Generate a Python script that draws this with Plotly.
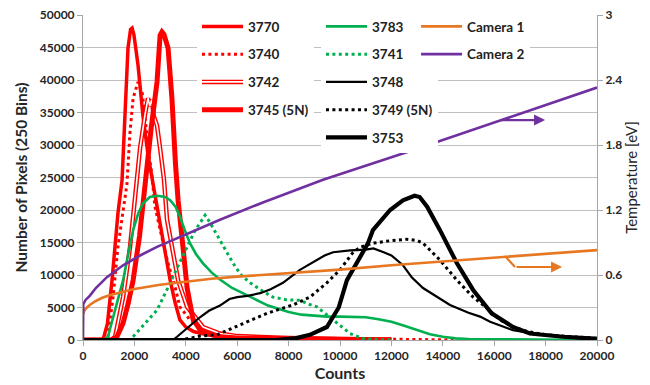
import plotly.graph_objects as go

# ---------------- data ----------------
x_3770 = [0, 700, 800, 950, 1130, 1360, 1520, 1650, 1750, 1850, 1910, 1980, 2140, 2330, 2530, 2700, 2880, 3070, 3230, 3390, 3580, 3770, 4000, 4300, 4700, 5300, 6000, 7000, 8000, 9000, 10000, 12000]
y_3770 = [0, 0, 300, 2500, 9200, 19500, 24600, 36000, 44900, 47800, 48000, 47000, 42300, 34600, 28500, 24600, 20500, 16900, 12800, 9200, 5800, 3100, 2000, 1300, 900, 500, 300, 200, 150, 100, 80, 30]

x_3740 = [0, 850, 970, 1170, 1360, 1710, 1830, 1950, 2140, 2300, 2410, 2530, 2680, 2800, 3070, 3310, 3580, 3770, 4160, 4550, 5330, 6000, 8000, 10000, 12000, 14000, 14600]
y_3740 = [0, 0, 500, 6600, 14300, 24000, 32000, 37200, 39700, 38100, 34600, 29500, 25400, 20500, 15800, 11800, 8200, 5100, 3100, 2000, 1000, 600, 300, 200, 150, 100, 0]

x_3742 = [0, 1100, 1250, 1560, 1830, 2100, 2220, 2410, 2530, 2600, 2680, 2750, 2880, 3000, 3150, 3270, 3460, 3700, 4050, 4670, 5330, 6000, 8000, 10000, 12000]
y_3742 = [0, 0, 500, 6600, 14300, 24600, 29500, 34600, 37200, 36000, 37000, 34500, 33000, 29500, 24700, 18500, 14300, 9200, 5100, 2000, 1000, 600, 300, 150, 50]

x_3745 = [0, 1200, 1320, 1560, 1750, 1950, 2200, 2410, 2650, 2880, 3000, 3070, 3150, 3310, 3460, 3600, 3700, 3890, 4050, 4280, 4550, 4820, 5330, 6000, 7000, 8000, 9000, 10000, 11000, 12000]
y_3745 = [0, 0, 500, 2600, 5500, 9200, 16000, 24600, 32500, 39700, 46900, 47400, 47000, 44900, 37200, 27000, 21500, 14300, 8000, 3200, 1600, 1000, 500, 300, 200, 150, 100, 80, 50, 20]

x_3783 = [0, 800, 970, 1250, 1560, 1750, 1950, 2150, 2330, 2600, 2900, 3200, 3390, 3600, 3770, 3950, 4160, 4400, 4670, 5000, 5330, 5800, 6300, 6800, 7200, 7600, 8000, 8500, 9000, 9500, 10000, 10500, 11000, 11500, 12000, 12500, 13000, 13500, 14000, 14500, 15000, 16000, 17000, 18000, 19000, 20000]
y_3783 = [0, 0, 500, 4500, 9200, 13000, 16900, 19500, 21000, 22000, 22200, 22000, 21500, 20500, 19000, 17000, 14900, 13200, 11800, 10400, 9300, 8000, 7000, 6000, 5300, 4800, 4300, 3900, 3700, 3600, 3600, 3600, 3500, 3200, 2800, 2200, 1500, 900, 500, 250, 150, 100, 60, 30, 0, 0]

x_3741 = [0, 1800, 1950, 2400, 2880, 3200, 3500, 3770, 4050, 4350, 4670, 4750, 4950, 5330, 5840, 6150, 6500, 7000, 7390, 7900, 8440, 8800, 9100, 9730, 10390, 10900, 11500, 12000]
y_3741 = [0, 0, 500, 2500, 4600, 7200, 9700, 12000, 14300, 16800, 18700, 19200, 18000, 15300, 11800, 10000, 8800, 7500, 6600, 6200, 6100, 5500, 5100, 3100, 1000, 200, 50, 0]

x_3748 = [0, 3500, 3660, 4100, 4550, 4900, 5330, 5700, 6000, 6400, 6900, 7300, 7780, 8440, 8900, 9400, 9730, 10400, 11000, 11300, 11700, 12000, 12450, 12800, 13230, 13770, 14280, 15000, 15450, 15840, 16730, 17670, 18050, 19000, 20000]
y_3748 = [0, 0, 500, 2000, 3500, 4500, 5300, 6300, 6600, 6800, 7200, 7800, 8800, 10800, 11800, 13000, 13500, 13800, 13900, 14100, 13500, 13000, 11500, 9600, 8000, 6700, 5400, 4200, 3600, 2800, 1500, 900, 700, 400, 200]

x_3749 = [0, 3700, 4200, 4550, 5210, 5800, 6230, 6700, 7160, 7700, 8170, 8830, 9490, 10000, 10510, 10800, 11280, 12000, 12600, 13000, 13230, 13890, 14550, 15180, 15720, 16230, 16730, 17300, 18000, 19000, 20000]
y_3749 = [0, 0, 300, 600, 800, 1800, 2600, 3300, 4100, 4800, 5400, 6600, 8800, 10800, 13500, 14300, 14900, 15300, 15500, 15300, 14900, 12300, 9200, 6600, 4900, 3100, 2000, 1300, 800, 500, 300]

x_3753 = [0, 7500, 8300, 8830, 9490, 9950, 10270, 10660, 11090, 11280, 11950, 12450, 12900, 13100, 13390, 13890, 14550, 15180, 15900, 16730, 17390, 18680, 19900]
y_3753 = [0, 0, 300, 800, 2000, 5000, 9200, 12000, 14900, 16900, 20000, 21500, 22200, 22000, 20500, 16900, 11800, 7700, 4100, 2000, 1000, 500, 200]

x_cam1 = [0, 50, 150, 300, 500, 750, 1000, 1500, 2000, 3000, 4000, 5000, 6000, 8000, 10000, 12000, 14000, 16000, 18000, 20000]
t_cam1 = [0.24, 0.27, 0.30, 0.33, 0.36, 0.39, 0.41, 0.44, 0.47, 0.51, 0.54, 0.565, 0.585, 0.615, 0.65, 0.69, 0.725, 0.76, 0.795, 0.83]

x_cam2 = [0, 10, 100, 270, 500, 930, 1560, 2220, 2880, 3770, 4550, 5330, 7000, 9340, 12800, 16000, 20000]
t_cam2 = [0.0, 0.33, 0.37, 0.41, 0.48, 0.58, 0.69, 0.78, 0.86, 0.95, 1.03, 1.11, 1.27, 1.48, 1.75, 2.01, 2.33]

# arrows pointing to the right-hand axis
purple_arrow_x = [16200, 17980]
purple_arrow_t = [2.03, 2.03]
orange_arrow_x = [16420, 16810, 18640]
orange_arrow_t = [0.775, 0.674, 0.674]

x_ticks = list(range(0, 20001, 2000))
y_ticks = list(range(0, 50001, 5000))
t_ticks = [0, 0.6, 1.2, 1.8, 2.4, 3]
t_ticktext = ["0", "0.6", "1.2", "1.8", "2.4", "3"]

# ---------------- styles ----------------
RED = "#FF0000"
GREEN = "#00B050"
BLACK = "#000000"
ORANGE = "#E87722"
PURPLE = "#7030A0"
FONT = "Lato"
BLANK = "\u00a0"

fig = go.Figure()


def add(x, y, name, color, width, dash="solid", legend="legend", yaxis="y",
        showlegend=True, rank=1000, group=None):
    fig.add_trace(go.Scatter(
        x=x, y=y, name=name, mode="lines", yaxis=yaxis,
        line=dict(color=color, width=width, dash=dash),
        legend=legend, showlegend=showlegend, legendgroup=group or (name + legend),
        legendrank=rank, hoverinfo="skip"))


add(x_3770, y_3770, "3770", RED, 3.5, rank=1)
add(x_3740, y_3740, "3740", RED, 3, dash="3px,3.4px", rank=2)
add(x_3742, y_3742, "3742", RED, 4.5, rank=3)
add(x_3742, y_3742, BLANK, "white", 1.6, legend="legend4", rank=3, group="w3")
add(x_3745, y_3745, "3745 (5N)", RED, 5, rank=4)
add(x_3783, y_3783, "3783", GREEN, 2.6, legend="legend2", rank=1)
add(x_3741, y_3741, "3741", GREEN, 3, dash="3px,3.4px", legend="legend2", rank=2)
add(x_3748, y_3748, "3748", BLACK, 2.2, legend="legend2", rank=3)
add(x_3749, y_3749, "3749 (5N)", BLACK, 3, dash="3px,3.4px", legend="legend2", rank=4)
add(x_3753, y_3753, "3753", BLACK, 4.2, legend="legend2", rank=5)
add(x_cam1, t_cam1, "Camera 1", ORANGE, 2.6, legend="legend3", yaxis="y2", rank=1)
add(x_cam2, t_cam2, "Camera 2", PURPLE, 2.6, legend="legend3", yaxis="y2", rank=2)

# orange arrow kink segment
add(orange_arrow_x[:2], orange_arrow_t[:2], "o_arrow", ORANGE, 2.2, yaxis="y2", showlegend=False)

# invisible placeholders so the white inner line of 3742 aligns in the legend
for rk in [1, 2, 4]:
    add([None], [None], BLANK, "rgba(0,0,0,0)", 1, legend="legend4", rank=rk, group="p%d" % rk)

fig.add_annotation(x=purple_arrow_x[1], y=purple_arrow_t[1], ax=purple_arrow_x[0], ay=purple_arrow_t[0],
                   xref="x", yref="y2", axref="x", ayref="y2", text="", showarrow=True,
                   arrowhead=2, arrowsize=1, arrowwidth=2.2, arrowcolor=PURPLE, standoff=0)
fig.add_annotation(x=orange_arrow_x[2], y=orange_arrow_t[2], ax=orange_arrow_x[1], ay=orange_arrow_t[1],
                   xref="x", yref="y2", axref="x", ayref="y2", text="", showarrow=True,
                   arrowhead=2, arrowsize=1, arrowwidth=2.2, arrowcolor=ORANGE, standoff=0)

legend_common = dict(
    orientation="v", yanchor="top", xanchor="left", bgcolor="white", borderwidth=0,
    font=dict(family=FONT, size=13.5, color="#222222", weight="bold"),
    itemwidth=41, traceorder="grouped", tracegroupgap=7.2, itemclick=False, itemdoubleclick=False,
)
LY = 1.012
legend1 = dict(legend_common, x=0.2218, y=LY)
legend4 = dict(legend_common, x=0.2218, y=LY, bgcolor="rgba(0,0,0,0)")
legend2 = dict(legend_common, x=0.463, y=LY)
legend3 = dict(legend_common, x=0.648, y=LY)

AXC = "#A6A6A6"
tickfont = dict(family=FONT, size=12, color="#262626", weight="bold")

fig.update_layout(
    width=650, height=385,
    margin=dict(l=83, r=53, t=15, b=45, autoexpand=False),
    paper_bgcolor="white", plot_bgcolor="white",
    showlegend=True,
    legend=legend1, legend2=legend2, legend3=legend3, legend4=legend4,
    xaxis=dict(range=[0, 20000], tickvals=x_ticks, ticktext=[str(v) for v in x_ticks],
               ticks="outside", ticklen=5, tickcolor=AXC, automargin=False,
               showline=True, linecolor=AXC, linewidth=1, showgrid=False, zeroline=False,
               tickfont=tickfont,
               title=dict(text="Counts", font=dict(family=FONT, size=16, color="#262626", weight="bold"),
                          standoff=4)),
    yaxis=dict(range=[0, 50000], tickvals=y_ticks, ticktext=[str(v) for v in y_ticks],
               ticks="outside", ticklen=5, tickcolor=AXC, automargin=False,
               showline=True, linecolor=AXC, linewidth=1, showgrid=True, gridcolor="#BFBFBF",
               gridwidth=1, zeroline=False, tickfont=tickfont,
               title=dict(text="Number of Pixels (250 Bins)",
                          font=dict(family=FONT, size=15.5, color="#262626", weight="bold"), standoff=8)),
    yaxis2=dict(range=[0, 3], tickvals=t_ticks, ticktext=t_ticktext,
                overlaying="y", side="right", ticks="outside", ticklen=5, tickcolor=AXC, automargin=False,
                showline=True, linecolor=AXC, linewidth=1, showgrid=False, zeroline=False,
                tickfont=tickfont,
                title=dict(text="Temperature [eV]", font=dict(family=FONT, size=15, color="#262626"),
                           standoff=0)),
)

fig.write_html("out.html", config={"displayModeBar": False},
               post_script="document.body.style.margin='0px';")
